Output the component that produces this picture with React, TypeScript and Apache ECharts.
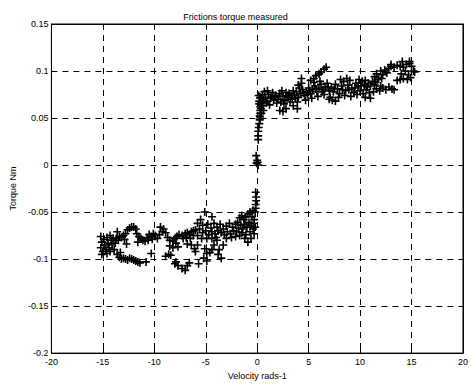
import React, { useEffect, useRef } from "react";
import * as echarts from "echarts";

const titleText = "Frictions torque measured";
const xAxisName = "Velocity rads-1";
const yAxisName = "Torque Nm";
const xMin = -20;
const xMax = 20;
const xStep = 5;
const yMin = -0.2;
const yMax = 0.15;
const yStep = 0.05;

// negative velocity branch
const negativeBranch: [number, number][] = [
  [-15.2, -0.076], [-15.1, -0.082], [-15.2, -0.088], [-15.0, -0.092], [-14.9, -0.079], [-14.8, -0.085],
  [-14.7, -0.09], [-14.6, -0.077], [-14.5, -0.083], [-14.4, -0.088], [-14.3, -0.092], [-14.2, -0.08],
  [-14.1, -0.085], [-14.0, -0.078], [-13.9, -0.09], [-13.8, -0.083], [-13.7, -0.078], [-14.6, -0.094],
  [-15.1, -0.095], [-14.3, -0.075], [-13.6, -0.071], [-13.5, -0.08], [-13.4, -0.076],
  [-13.2, -0.077], [-13.0, -0.075], [-12.8, -0.073], [-12.6, -0.069], [-12.4, -0.067], [-12.2, -0.066],
  [-12.0, -0.066], [-11.8, -0.068], [-11.7, -0.073], [-11.5, -0.076], [-11.3, -0.078], [-11.1, -0.08],
  [-10.9, -0.081], [-12.7, -0.084], [-12.9, -0.079], [-11.6, -0.082],
  [-10.7, -0.077], [-10.5, -0.074], [-10.3, -0.076], [-10.1, -0.073], [-9.9, -0.075], [-9.7, -0.078],
  [-10.6, -0.08], [-10.2, -0.079], [-10.3, -0.094], [-9.5, -0.074],
  [-9.4, -0.066], [-9.1, -0.068], [-8.9, -0.072], [-9.2, -0.071],
  [-8.7, -0.077], [-8.5, -0.08], [-8.2, -0.081], [-8.0, -0.078], [-7.8, -0.076], [-7.6, -0.074],
  [-7.3, -0.075], [-7.0, -0.073], [-6.8, -0.072], [-6.6, -0.074], [-6.4, -0.071], [-6.2, -0.07],
  [-6.0, -0.069], [-8.5, -0.086], [-8.2, -0.088], [-7.9, -0.083], [-7.7, -0.087], [-7.2, -0.078],
  [-6.9, -0.077], [-6.5, -0.078], [-6.2, -0.075],
  [-13.6, -0.095], [-13.4, -0.098], [-13.2, -0.1], [-13.0, -0.099], [-12.8, -0.1], [-12.6, -0.101],
  [-12.4, -0.099], [-12.2, -0.1], [-12.0, -0.101], [-11.8, -0.102], [-11.6, -0.103], [-11.4, -0.104],
  [-10.8, -0.103], [-13.3, -0.093],
  [-8.9, -0.097], [-8.6, -0.095], [-8.4, -0.096], [-8.0, -0.105], [-7.7, -0.107], [-7.3, -0.11],
  [-7.0, -0.112], [-6.8, -0.107], [-6.6, -0.104], [-5.7, -0.105], [-7.9, -0.103],
  [-6.8, -0.084], [-6.4, -0.085], [-6.1, -0.089], [-6.0, -0.092], [-5.8, -0.085], [-5.1, -0.089],
  [-4.9, -0.094], [-5.2, -0.099], [-4.9, -0.102], [-4.6, -0.093], [-4.2, -0.085], [-4.4, -0.09],
  [-3.8, -0.095], [-3.5, -0.099], [-3.7, -0.09], [-3.3, -0.085], [-4.4, -0.078], [-3.9, -0.08],
  [-5.8, -0.062], [-5.5, -0.058], [-5.3, -0.064], [-5.1, -0.05], [-4.4, -0.055], [-4.8, -0.063],
  [-4.5, -0.067], [-4.2, -0.062], [-3.9, -0.066], [-3.6, -0.063], [-3.3, -0.068], [-3.0, -0.065],
  [-2.7, -0.062], [-2.4, -0.066], [-2.1, -0.063], [-5.6, -0.068], [-5.3, -0.072], [-5.0, -0.07],
  [-4.7, -0.074], [-4.4, -0.071], [-4.1, -0.073], [-3.8, -0.07], [-3.5, -0.072], [-3.2, -0.074],
  [-2.9, -0.071], [-2.6, -0.073], [-2.3, -0.07], [-2.0, -0.071], [-5.8, -0.075], [-5.4, -0.078],
  [-4.9, -0.078], [-4.0, -0.077], [-3.0, -0.078], [-2.5, -0.077], [-2.1, -0.076],
  [-1.9, -0.061], [-1.7, -0.056], [-1.5, -0.054], [-1.3, -0.058], [-1.1, -0.055], [-0.9, -0.052],
  [-0.7, -0.05], [-0.5, -0.055], [-0.4, -0.048], [-0.3, -0.058], [-1.8, -0.067], [-1.6, -0.064],
  [-1.4, -0.068], [-1.2, -0.063], [-1.0, -0.066], [-0.8, -0.061], [-0.6, -0.064], [-0.4, -0.068],
  [-0.3, -0.062], [-1.5, -0.072], [-1.1, -0.074], [-0.7, -0.071], [-0.3, -0.073], [-1.2, -0.078],
  [-0.9, -0.082], [-0.6, -0.078], [-1.7, -0.075], [-0.2, -0.05], [-0.2, -0.066],
];

// points crossing zero velocity
const transitionBranch: [number, number][] = [
  [-0.15, -0.046], [-0.15, -0.042], [-0.1, -0.038], [-0.1, -0.034], [-0.15, -0.029], [0.1, 0.027],
  [-0.1, 0.01], [0.0, 0.005], [0.05, 0.003], [0.1, 0.0], [-0.05, 0.002], [0.1, 0.031],
  [0.1, 0.036], [0.15, 0.04], [0.2, 0.044], [0.25, 0.048], [0.25, 0.052], [0.3, 0.055],
  [0.3, 0.058], [0.3, 0.062], [0.35, 0.065], [0.2, 0.068], [0.3, 0.071], [0.15, 0.074],
];

// positive velocity branch
const positiveBranch: [number, number][] = [
  [0.3, 0.05], [0.4, 0.055], [0.35, 0.06], [0.5, 0.063], [0.45, 0.067], [0.6, 0.07], [0.3, 0.072],
  [0.5, 0.075], [0.7, 0.078], [0.2, 0.065], [0.6, 0.058],
  [0.8, 0.072], [1.0, 0.068], [1.1, 0.075], [1.3, 0.071], [1.5, 0.077], [1.6, 0.069], [1.8, 0.074],
  [2.0, 0.07], [2.2, 0.076], [2.3, 0.067], [2.5, 0.073], [2.7, 0.069], [2.8, 0.077], [3.0, 0.072],
  [3.2, 0.067], [1.2, 0.064], [1.9, 0.066], [2.6, 0.065], [1.0, 0.079], [2.4, 0.079], [3.1, 0.076],
  [0.9, 0.066], [1.4, 0.073], [1.7, 0.072], [2.1, 0.073], [2.9, 0.074], [3.3, 0.074],
  [2.2, 0.058], [2.5, 0.057], [2.8, 0.06], [3.9, 0.06], [3.5, 0.063],
  [3.4, 0.07], [3.6, 0.074], [3.8, 0.078], [4.0, 0.072], [4.2, 0.076], [4.4, 0.08], [4.6, 0.074],
  [4.8, 0.078], [5.0, 0.082], [5.2, 0.076], [5.4, 0.08], [5.6, 0.084], [5.8, 0.078], [6.0, 0.082],
  [6.2, 0.086], [6.4, 0.08], [6.6, 0.083], [6.8, 0.087], [7.0, 0.079], [3.5, 0.079], [4.1, 0.082],
  [4.7, 0.069], [5.3, 0.071], [5.9, 0.073], [6.5, 0.075], [7.1, 0.072], [3.9, 0.067], [5.5, 0.088],
  [6.1, 0.089], [3.7, 0.071], [4.5, 0.077], [4.9, 0.075], [5.1, 0.079], [5.7, 0.081], [6.3, 0.078],
  [6.9, 0.082], [4.0, 0.085],
  [4.3, 0.092], [4.3, 0.087], [5.5, 0.092], [5.7, 0.095], [6.0, 0.097], [6.2, 0.099], [6.5, 0.102],
  [6.7, 0.104], [5.2, 0.09],
  [7.3, 0.069], [7.6, 0.068], [7.0, 0.07],
  [7.2, 0.083], [7.4, 0.078], [7.6, 0.086], [7.8, 0.081], [8.0, 0.076], [8.2, 0.084], [8.4, 0.089],
  [8.6, 0.079], [8.8, 0.085], [9.0, 0.09], [9.2, 0.082], [9.4, 0.077], [9.6, 0.087], [9.8, 0.084],
  [10.0, 0.079], [10.2, 0.089], [10.4, 0.085], [10.6, 0.08], [10.8, 0.087], [11.0, 0.084],
  [11.2, 0.089], [11.4, 0.086], [8.1, 0.091], [8.7, 0.092], [9.9, 0.091], [10.5, 0.09], [7.9, 0.072],
  [8.5, 0.074], [9.1, 0.073], [9.7, 0.075], [10.3, 0.076], [10.9, 0.077], [11.3, 0.078],
  [10.5, 0.072], [11.0, 0.071], [7.5, 0.081], [8.3, 0.08], [8.9, 0.08], [9.5, 0.082],
  [10.1, 0.084], [10.7, 0.083],
  [11.6, 0.081], [11.9, 0.079], [12.2, 0.082], [12.5, 0.08], [12.8, 0.083], [13.1, 0.081],
  [13.3, 0.08], [12.0, 0.084],
  [11.4, 0.094], [11.6, 0.097], [11.8, 0.093], [12.0, 0.1], [12.2, 0.096], [12.4, 0.101],
  [12.6, 0.098], [12.8, 0.103], [13.0, 0.105], [13.3, 0.104], [13.6, 0.106], [13.9, 0.105],
  [14.2, 0.104], [14.5, 0.107], [14.8, 0.108], [15.0, 0.105], [15.2, 0.1], [14.4, 0.1],
  [14.0, 0.097], [14.7, 0.096], [13.6, 0.09], [13.9, 0.091], [14.2, 0.092], [14.6, 0.091],
  [14.9, 0.093], [15.3, 0.099], [11.5, 0.088], [11.7, 0.091], [12.1, 0.092], [14.1, 0.11],
  [14.8, 0.11], [13.0, 0.107],
];

const plusSymbol = "path://M3.2,0H4.8V3.2H8V4.8H4.8V8H3.2V4.8H0V3.2H3.2Z";

const FONT = "Liberation Sans, Arial, Helvetica, sans-serif";

export default function App() {
  const ref = useRef<HTMLDivElement>(null);
  useEffect(() => {
    if (!ref.current) return;
    const chart = echarts.init(ref.current, undefined, { renderer: "svg" });
    const grid = { color: "#000", type: [6, 5] as number[], width: 1 };
    const line = { show: true, onZero: false, lineStyle: { color: "#000" } };
    const tick = { show: true, inside: true, length: 4, lineStyle: { color: "#000" } };
    const baseX = { type: "value" as const, min: xMin, max: xMax, interval: xStep };
    const baseY = { type: "value" as const, min: yMin, max: yMax, interval: yStep };
    chart.setOption({
      animation: false,
      backgroundColor: "#fff",
      title: {
        text: titleText,
        left: "center",
        top: 7,
        textStyle: { fontSize: 9, fontWeight: "normal", color: "#000", fontFamily: FONT },
      },
      grid: {
        left: 46,
        right: 4,
        top: 24,
        bottom: 27,
        show: true,
        borderColor: "#000",
        borderWidth: 1,
        backgroundColor: "#fff",
      },
      xAxis: [
        {
          ...baseX,
          position: "bottom",
          name: xAxisName,
          nameLocation: "middle",
          nameGap: 15,
          nameTextStyle: { fontSize: 9, color: "#000", fontFamily: FONT },
          axisLine: line,
          axisTick: tick,
          axisLabel: { fontSize: 9, color: "#000", margin: 4, fontFamily: FONT },
          splitLine: { show: true, lineStyle: grid },
        },
        {
          ...baseX,
          position: "top",
          axisLine: line,
          axisTick: tick,
          axisLabel: { show: false },
          splitLine: { show: false },
        },
      ],
      yAxis: [
        {
          ...baseY,
          position: "left",
          name: yAxisName,
          nameLocation: "middle",
          nameGap: 30,
          nameTextStyle: { fontSize: 9, color: "#000", fontFamily: FONT },
          axisLine: line,
          axisTick: tick,
          axisLabel: { fontSize: 9, color: "#000", margin: 3, fontFamily: FONT },
          splitLine: { show: true, lineStyle: grid },
        },
        {
          ...baseY,
          position: "right",
          axisLine: line,
          axisTick: tick,
          axisLabel: { show: false },
          splitLine: { show: false },
        },
      ],
      series: [
        { name: "negative", data: negativeBranch },
        { name: "transition", data: transitionBranch },
        { name: "positive", data: positiveBranch },
      ].map((s) => ({
        type: "scatter",
        name: s.name,
        xAxisIndex: 0,
        yAxisIndex: 0,
        data: s.data,
        symbol: plusSymbol,
        symbolSize: 8,
        itemStyle: { color: "#000", opacity: 1 },
        emphasis: { disabled: true },
      })),
    });
    return () => chart.dispose();
  }, []);
  return (
    <div
      ref={ref}
      style={{ position: "fixed", left: 0, top: 0, width: 471, height: 385, background: "#fff" }}
    />
  );
}
